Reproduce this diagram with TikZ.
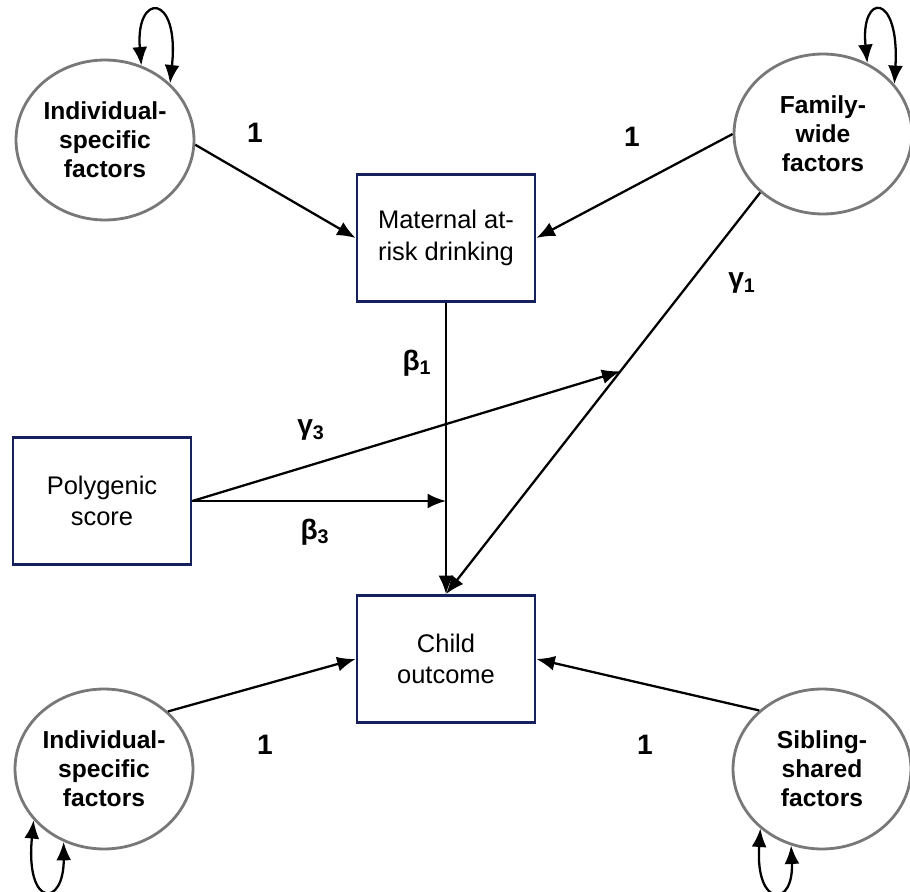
\documentclass[tikz,border=0pt]{standalone}
\usepackage{fontspec}
\setmainfont{Liberation Sans}
\usetikzlibrary{shapes.geometric,arrows.meta}
\definecolor{boxnavy}{RGB}{22,32,92}
\definecolor{ovalgray}{RGB}{120,120,120}

\begin{document}
\begin{tikzpicture}[x=0.02cm,y=-0.02cm,
    latent/.style={ellipse,draw=ovalgray,line width=1.6pt,minimum width=3.56cm,minimum height=3.2cm,
        inner sep=0pt,align=center,font=\fontsize{14}{16.5}\selectfont\bfseries},
    observed/.style={rectangle,draw=boxnavy,line width=1.6pt,minimum width=3.56cm,minimum height=2.54cm,
        align=center,font=\fontsize{14.5}{18}\selectfont},
    regpath/.style={-{Latex[length=10.5pt,width=8.5pt]},line width=1.3pt},
    varloop/.style={{Latex[length=10.5pt,width=8.5pt]}-{Latex[length=10.5pt,width=8.5pt]},line width=1.3pt},
    coef/.style={font=\fontsize{16}{18}\selectfont\bfseries}]
        \useasboundingbox (0,0) rectangle (910,892);
        \node[latent] (isfmat) at (105,140) {Individual-\\specific\\factors};
        \node[latent] (fwf) at (823,134) {Family-\\wide\\factors};
        \node[latent] (isfchild) at (104,769) {Individual-\\specific\\factors};
        \node[latent] (ssf) at (822,769) {Sibling-\\shared\\factors};
        \node[observed] (mat) at (446,238) {Maternal at-\\risk drinking};
        \node[observed] (pgs) at (102,501) {Polygenic\\score};
        \node[observed] (child) at (446,659) {Child\\outcome};
        \draw[varloop] (isfmat.64) .. controls (135,-8) and (180,-8) .. (isfmat.41);
        \draw[varloop] (fwf.58) .. controls (860,-8) and (900,-8) .. (fwf.35);
        \draw[varloop] (isfchild.216) .. controls (25,908) and (64,908) .. (isfchild.241);
        \draw[varloop] (ssf.224) .. controls (755,908) and (794,908) .. (ssf.248);
        \draw[regpath] (isfmat.-3) -- (mat.west);
        \draw[regpath] (fwf.west) -- (mat.east);
        \draw[regpath] (mat.south) -- coordinate (b1pt) (child.north);
        \draw[regpath] (fwf.223) -- coordinate[pos=0.445] (g1pt) (child.north);
        \coordinate (b3pt) at (mat.south |- pgs.east);
        \draw[regpath] (pgs.east) -- (b3pt);
        \draw[regpath] (pgs.east) -- (g1pt);
        \draw[regpath] (isfchild.42) -- (child.west);
        \draw[regpath] (ssf.137) -- (child.east);
        \node[coef] (l1) at (255,133) {1};
        \node[coef] (l2) at (632,137) {1};
        \node[coef] (l3) at (265,745) {1};
        \node[coef] (l4) at (645,745) {1};
        \node[coef] (g1) at (742,283) {γ\textsubscript{1}};
        \node[coef] (b1) at (417,363) {β\textsubscript{1}};
        \node[coef] (g3) at (311,430) {γ\textsubscript{3}};
        \node[coef] (b3) at (315,532) {β\textsubscript{3}};
\end{tikzpicture}
\end{document}
